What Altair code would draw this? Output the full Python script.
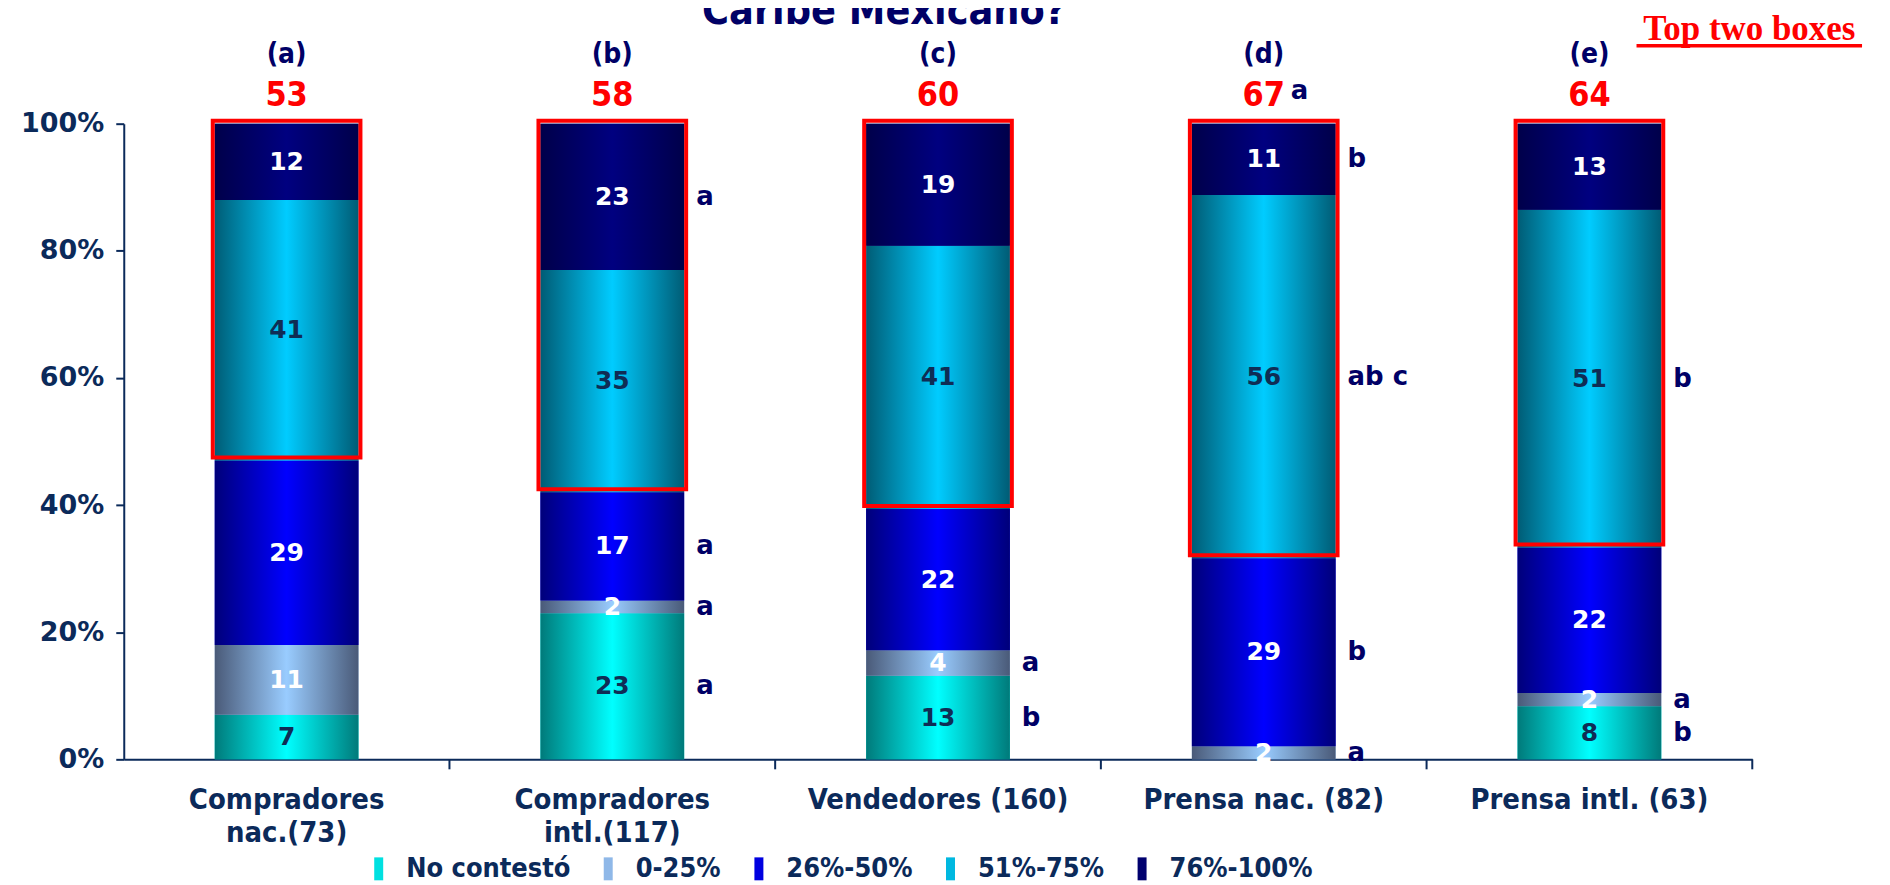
import altair as alt
import pandas as pd

# ---------------- data ----------------
categories = ["Compradores\nnac.(73)", "Compradores\nintl.(117)", "Vendedores (160)",
              "Prensa nac. (82)", "Prensa intl. (63)"]
group_tags = ["(a)", "(b)", "(c)", "(d)", "(e)"]
series = ["No contestó", "0-25%", "26%-50%", "51%-75%", "76%-100%"]

no_contesto = [7, 23, 13, 0, 8]
p0_25 = [11, 2, 4, 2, 2]
p26_50 = [29, 17, 22, 29, 22]
p51_75 = [41, 35, 41, 56, 51]
p76_100 = [12, 23, 19, 11, 13]

sig_no_contesto = ["", "a", "b", "", "b"]
sig_0_25 = ["", "a", "a", "a", "a"]
sig_26_50 = ["", "a", "", "b", ""]
sig_51_75 = ["", "", "", "ab c", "b"]
sig_76_100 = ["", "a", "", "b", ""]
top2_sig = ["", "", "", "a", ""]

title_text = "Caribe Mexicano?"
box_note = "Top two boxes"

# ---------------- styling ----------------
solid_colors = ["#00e0e0", "#8fb8e8", "#0000e0", "#00b8e0", "#00006e"]
gradients = [
    ["#007a7a", "#00ffff", "#007a7a"],
    ["#4a5a78", "#99ccff", "#4a5a78"],
    ["#00007a", "#0000ff", "#00007a"],
    ["#005c75", "#00ccff", "#005c75"],
    ["#00004a", "#000080", "#00004a"],
]
NAVY = "#0b2a5a"
LETTER = "#000066"
FONT = "DejaVu Sans"
CFONT = "DejaVu Sans Condensed, DejaVu Sans"

values_by_series = [no_contesto, p0_25, p26_50, p51_75, p76_100]
sig_by_series = [sig_no_contesto, sig_0_25, sig_26_50, sig_51_75, sig_76_100]

rows = []
for si, s in enumerate(series):
    for ci, c in enumerate(categories):
        rows.append({"cat": c, "series": s, "order": si,
                     "value": values_by_series[si][ci], "sig": sig_by_series[si][ci]})
df = pd.DataFrame(rows)

top_df = pd.DataFrame({
    "cat": categories,
    "tag": group_tags,
    "top2": [a + b for a, b in zip(p51_75, p76_100)],
    "tsig": top2_sig,
})

W, H = 1632, 637

xaxis = alt.Axis(title=None, domainColor=NAVY, domainWidth=2, ticks=False,
                 labelAngle=0, labelFont=CFONT, labelFontWeight="bold", labelFontSize=29,
                 labelColor=NAVY, labelPadding=26, labelLineHeight=33, labelLimit=400,
                 labelExpr="split(datum.label, '\\n')")
xenc = alt.X("cat:N", sort=categories, axis=xaxis,
             scale=alt.Scale(paddingInner=0, paddingOuter=0))

yaxis = alt.Axis(title=None, format="%", values=[0, 0.2, 0.4, 0.6, 0.8, 1.0],
                 domainColor=NAVY, domainWidth=2, tickColor=NAVY, tickWidth=2, tickSize=8,
                 labelFont=FONT, labelFontWeight="bold", labelFontSize=27, labelColor=NAVY,
                 labelPadding=12, grid=False)
yscale = alt.Scale(domain=[0, 1], nice=False, zero=True)

base = alt.Chart(df).transform_stack(
    stack="value", groupby=["cat"], as_=["y0", "y1"], offset="normalize",
    sort=[alt.SortField("order", order="ascending")]
).transform_calculate(mid="(datum.y0 + datum.y1) / 2")

# solid base layer (supplies legend)
solid = base.transform_filter("datum.value > 0").mark_bar(size=144).encode(
    x=xenc,
    y=alt.Y("y0:Q", stack=None, scale=yscale, axis=yaxis),
    y2="y1:Q",
    color=alt.Color("series:N", sort=series,
                    scale=alt.Scale(domain=series, range=solid_colors),
                    legend=alt.Legend(orient="none", legendX=242, legendY=733,
                                      direction="horizontal", columns=5, title=None,
                                      symbolType="M-0.45,-1.15H0.45V1.15H-0.45Z",
                                      symbolSize=400, symbolStrokeWidth=0,
                                      labelFont=CFONT, labelFontWeight="bold",
                                      labelFontSize=27, labelColor=NAVY,
                                      labelOffset=14, columnPadding=24, labelLimit=400)),
)

layers = [solid]
for si, s in enumerate(series):
    g = gradients[si]
    grad = {"gradient": "linear", "x1": 0, "x2": 1, "y1": 0, "y2": 0,
            "stops": [{"offset": 0, "color": g[0]},
                      {"offset": 0.5, "color": g[1]},
                      {"offset": 1, "color": g[2]}]}
    layers.append(
        base.transform_filter(alt.FieldEqualPredicate(field="series", equal=s))
        .transform_filter("datum.value > 0")
        .mark_bar(size=144, color=grad)
        .encode(x=xenc, y=alt.Y("y0:Q", stack=None, scale=yscale, axis=yaxis), y2="y1:Q")
    )

# red boxes around the top two boxes
boxes = base.transform_filter("datum.order == 3").mark_bar(
    size=148, fillOpacity=0, stroke="#ff0000", strokeWidth=4, yOffset=-3, y2Offset=-3
).encode(x=xenc, y=alt.Y("y0:Q", stack=None, scale=yscale, axis=yaxis), y2=alt.datum(1))

# value labels
val_labels = base.transform_filter("datum.value > 0").transform_calculate(
    tc="(datum.order == 0 || datum.order == 3) ? '#0f2d55' : '#ffffff'"
).mark_text(font=FONT, fontWeight="bold", fontSize=25, baseline="middle").encode(
    x=xenc, y=alt.Y("mid:Q", scale=yscale, axis=yaxis), text="value:Q",
    color=alt.Color("tc:N", scale=None),
)

# significance letters
sig_labels = base.transform_filter("datum.sig != ''").mark_text(
    font=FONT, fontWeight="bold", fontSize=26, align="left", baseline="middle",
    dx=84, color=LETTER
).encode(x=xenc, y=alt.Y("mid:Q", scale=yscale, axis=yaxis), text="sig:N")

top = alt.Chart(top_df)
top_nums = top.mark_text(font=CFONT, fontWeight="bold", fontSize=34, color="#ff0000",
                         baseline="middle", dy=-28).encode(
    x=xenc, y=alt.datum(1), text="top2:Q")
top_sig = top.transform_filter("datum.tsig != ''").mark_text(
    font=FONT, fontWeight="bold", fontSize=26, color=LETTER, align="left",
    baseline="middle", dx=27, dy=-33).encode(x=xenc, y=alt.datum(1), text="tsig:N")
tags = top.mark_text(font=CFONT, fontWeight="bold", fontSize=28, color=LETTER,
                     baseline="middle", dy=-69).encode(x=xenc, y=alt.datum(1), text="tag:N")

# x-axis ticks at category boundaries
tick_rules = alt.Chart(pd.DataFrame({"cat": categories})).mark_rule(
    color=NAVY, strokeWidth=2).encode(
    x=alt.X("cat:N", sort=categories, bandPosition=1, axis=xaxis,
            scale=alt.Scale(paddingInner=0, paddingOuter=0)),
    y=alt.value(H), y2=alt.value(H + 10))

title_mark = alt.Chart(pd.DataFrame({"t": [title_text]})).mark_text(
    font=CFONT, fontWeight="bold", fontSize=41, color=LETTER, align="center",
    baseline="alphabetic").encode(x=alt.value(762), y=alt.value(-100), text="t:N")

note = alt.Chart(pd.DataFrame({"t": [box_note]})).mark_text(
    font="Liberation Serif", fontWeight="bold", fontSize=35, color="#ff0000",
    align="center", baseline="alphabetic").encode(
    x=alt.value(1629), y=alt.value(-84), text="t:N")
note_line = alt.Chart(pd.DataFrame({"t": [box_note]})).mark_rule(
    color="#ff0000", strokeWidth=3.5).encode(
    x=alt.value(1516), x2=alt.value(1742), y=alt.value(-78))

chart = alt.layer(
    *layers, boxes, val_labels, sig_labels, top_nums, top_sig, tags, tick_rules,
    title_mark, note, note_line
).properties(
    width=W, height=H,
    background="white",
    autosize=alt.AutoSizeParams(type="none"),
    padding={"left": 116, "top": 115, "right": 130, "bottom": 124},
).configure_view(strokeWidth=0)

chart.save("out.html", embed_options={"renderer": "svg", "actions": False})
